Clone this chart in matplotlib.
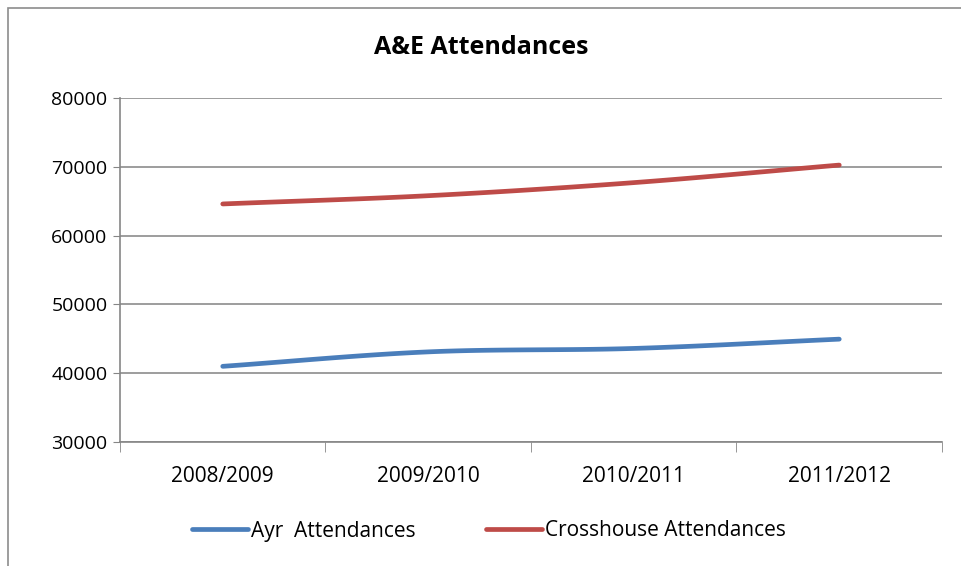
import numpy as np
import matplotlib.pyplot as plt
from matplotlib.patches import Rectangle

# Data
years = ['2008/2009', '2009/2010', '2010/2011', '2011/2012']
ayr = [41000, 43100, 43600, 44950]
crosshouse = [64600, 65800, 67700, 70250]


def smooth(x, y, n=40):
    # Catmull-Rom style smoothing like Excel's smoothed line
    x = np.asarray(x, float)
    y = np.asarray(y, float)
    px = np.concatenate([[2 * x[0] - x[1]], x, [2 * x[-1] - x[-2]]])
    py = np.concatenate([[2 * y[0] - y[1]], y, [2 * y[-1] - y[-2]]])
    xs, ys = [], []
    for i in range(1, len(px) - 2):
        t = np.linspace(0, 1, n)
        for arr, out in ((px, xs), (py, ys)):
            p0, p1, p2, p3 = arr[i - 1], arr[i], arr[i + 1], arr[i + 2]
            out.extend(0.5 * ((2 * p1) + (-p0 + p2) * t
                              + (2 * p0 - 5 * p1 + 4 * p2 - p3) * t ** 2
                              + (-p0 + 3 * p1 - 3 * p2 + p3) * t ** 3))
    return np.array(xs), np.array(ys)


plt.rcParams['font.family'] = ['Open Sans', 'DejaVu Sans']

fig = plt.figure(figsize=(9.62, 5.66), dpi=100)
fig.patches.append(Rectangle((8 / 962, -0.1), 1.1, 1 - 8 / 566 + 0.1,
                             transform=fig.transFigure, fill=False,
                             edgecolor='#8c8c8c', linewidth=1.2))

ax = fig.add_axes([120 / 962, 1 - 442 / 566, 822 / 962, 344 / 566])
x = np.arange(len(years))

blue = '#4a7ebb'
red = '#be4b48'
sx, sy = smooth(x, ayr)
ax.plot(sx, sy, color=blue, linewidth=3.4, solid_capstyle='round', label='Ayr  Attendances')
sx, sy = smooth(x, crosshouse)
ax.plot(sx, sy, color=red, linewidth=3.4, solid_capstyle='round', label='Crosshouse Attendances')

ax.set_xlim(-0.5, len(years) - 0.5)
ax.set_ylim(30000, 80000)
ax.set_yticks(np.arange(30000, 80001, 10000))
ax.set_xticks(x)
ax.set_xticklabels(years)
ax.set_xticks(np.arange(-0.5, len(years)), minor=True)
ax.tick_params(axis='x', which='major', length=0, pad=17, labelsize=15)
ax.tick_params(axis='x', which='minor', length=7, color='#868686', direction='out')
ax.tick_params(axis='y', length=5, color='#868686', pad=4, labelsize=14)
ax.grid(axis='y', color='#8c8c8c', linewidth=1.2)
ax.set_axisbelow(True)
for s in ['top', 'right']:
    ax.spines[s].set_visible(False)
for s in ['left', 'bottom']:
    ax.spines[s].set_color('#868686')
    ax.spines[s].set_linewidth(1.2)

fig.text(0.5, 1 - 47 / 566, 'A&E Attendances', ha='center', va='center',
         fontsize=18, fontweight='bold')
fig.legend(loc='center', bbox_to_anchor=(489 / 962, 1 - 531 / 566), ncol=2,
           frameon=False, fontsize=15, handlelength=2.65, handletextpad=0.15,
           columnspacing=3.4)

fig.savefig('out.png', dpi=100)
